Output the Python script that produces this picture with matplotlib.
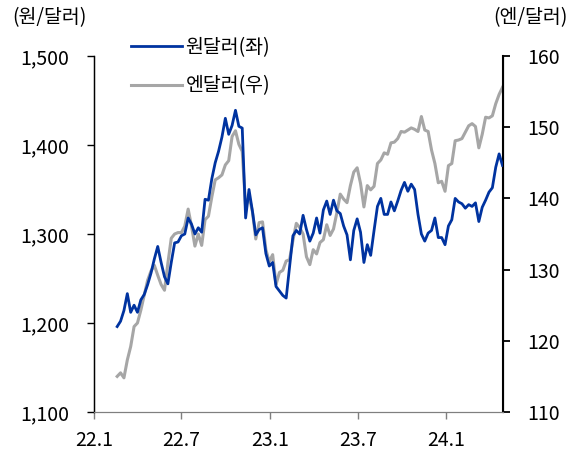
import pandas as pd
import matplotlib
matplotlib.use("Agg")
import matplotlib.pyplot as plt

plt.rcParams['font.family'] = ['Noto Sans CJK KR', 'DejaVu Sans']

# weekly closes (Fridays), 2022-02-18 .. 2024-04-26
dates = pd.date_range('2022-02-18', periods=115, freq='W-FRI')

krw = [
    1196, 1202, 1214, 1233, 1212, 1220, 1212, 1226, 1232, 1243, 1256,
    1272, 1286, 1268, 1252, 1244, 1268, 1290, 1291, 1298, 1300, 1318,
    1311, 1300, 1307, 1302, 1339, 1338, 1362, 1380, 1393, 1409, 1430,
    1412, 1422, 1439, 1421, 1419, 1318, 1350, 1326, 1299, 1305, 1307,
    1278, 1264,
    # 2023
    1268, 1241, 1236, 1231, 1228, 1263, 1298, 1304, 1300, 1321, 1305,
    1292, 1301, 1318, 1301, 1327, 1337, 1322, 1338, 1326, 1323, 1309,
    1299, 1271, 1304, 1317, 1302, 1268, 1288, 1276, 1304, 1331, 1340,
    1322, 1322, 1336, 1326, 1337, 1349, 1358, 1348, 1356, 1350, 1322,
    1300, 1292, 1301, 1304, 1318, 1296, 1296, 1288,
    # 2024
    1309, 1316, 1340, 1336, 1334, 1329, 1333, 1331, 1335, 1314, 1330,
    1338, 1347, 1352, 1375, 1390, 1377,
]

jpy = [
    115.0, 115.5, 114.8, 117.3, 119.2, 122.0, 122.5, 124.3, 126.4, 128.5, 129.8,
    130.6, 129.2, 127.9, 127.1, 130.9, 134.4, 135.0, 135.2, 135.2, 136.1, 138.5,
    136.1, 133.3, 135.0, 133.4, 137.0, 137.5, 140.2, 142.6, 142.9, 143.3, 144.7,
    145.3, 148.7, 149.5, 147.6, 146.6, 138.8, 140.3, 138.2, 134.3, 136.6, 136.7,
    132.8, 131.1,
    # 2023
    132.1, 127.9, 129.6, 129.9, 131.2, 131.4, 134.1, 136.5, 135.9, 135.0, 131.8,
    130.7, 132.8, 132.2, 133.8, 134.2, 136.3, 134.8, 135.7, 138.0, 140.6, 139.9,
    139.4, 141.8, 143.7, 144.3, 142.1, 138.8, 141.8, 141.2, 141.7, 144.9, 145.4,
    146.4, 146.2, 147.8, 147.9, 148.4, 149.4, 149.3, 149.6, 149.9, 149.7, 149.4,
    151.5, 149.6, 149.4, 146.8, 144.9, 142.2, 142.4, 141.0,
    # 2024
    144.6, 144.9, 148.1, 148.2, 148.4, 149.3, 150.2, 150.5, 150.1, 147.1, 149.0,
    151.4, 151.3, 151.6, 153.3, 154.6, 155.6,
]

tick_dates = pd.to_datetime(['2022-01-01', '2022-07-01', '2023-01-01', '2023-07-01', '2024-01-01'])
tick_labels = ['22.1', '22.7', '23.1', '23.7', '24.1']

fs = 14
fig = plt.figure(figsize=(5.73, 4.51), dpi=100)
ax = fig.add_axes([94 / 573, 1 - 412 / 451, (502.5 - 94) / 573, (412 - 56) / 451])
ax2 = ax.twinx()

l2, = ax2.plot(dates, jpy, color='#a6a6a6', lw=2.2, label='엔달러(우)')
l1, = ax.plot(dates, krw, color='#0033a0', lw=2.0, label='원달러(좌)')
# blue line drawn over the grey one
ax.set_zorder(ax2.get_zorder() + 1)
ax.patch.set_visible(False)

ax.set_xlim(pd.Timestamp('2022-01-01'), pd.Timestamp('2024-04-26'))
ax.set_ylim(1100, 1500)
ax2.set_ylim(110, 160)
ax.set_yticks([1100, 1200, 1300, 1400, 1500])
ax.set_yticklabels(['1,100', '1,200', '1,300', '1,400', '1,500'])
ax2.set_yticks([110, 120, 130, 140, 150, 160])
ax.set_xticks(tick_dates)
ax.set_xticklabels(tick_labels)

for a in (ax, ax2):
    a.spines['top'].set_visible(False)
    a.spines['bottom'].set_color('#7f7f7f')
ax.spines['left'].set_linewidth(1.0)
ax2.spines['right'].set_linewidth(1.5)
ax.tick_params(axis='y', direction='out', length=5, width=1, pad=13, labelsize=fs, colors='black')
ax2.tick_params(axis='y', direction='out', length=5, width=1.3, pad=13, labelsize=fs)
ax.tick_params(axis='x', direction='out', length=5, width=1, pad=8, labelsize=fs,
               color='#7f7f7f', labelcolor='black')

fig.text(49 / 573, 1 - 18 / 451, '(원/달러)', ha='center', va='center', fontsize=fs)
fig.text(530 / 573, 1 - 18 / 451, '(엔/달러)', ha='center', va='center', fontsize=fs)

fig.legend(handles=[l1, l2], loc='upper left', bbox_to_anchor=(131 / 573, 1 - 37 / 451),
           frameon=False, fontsize=fs, borderpad=0, borderaxespad=0,
           handlelength=2.6, handletextpad=0.2, labelspacing=0.9)

fig.savefig('out.png', dpi=100)
